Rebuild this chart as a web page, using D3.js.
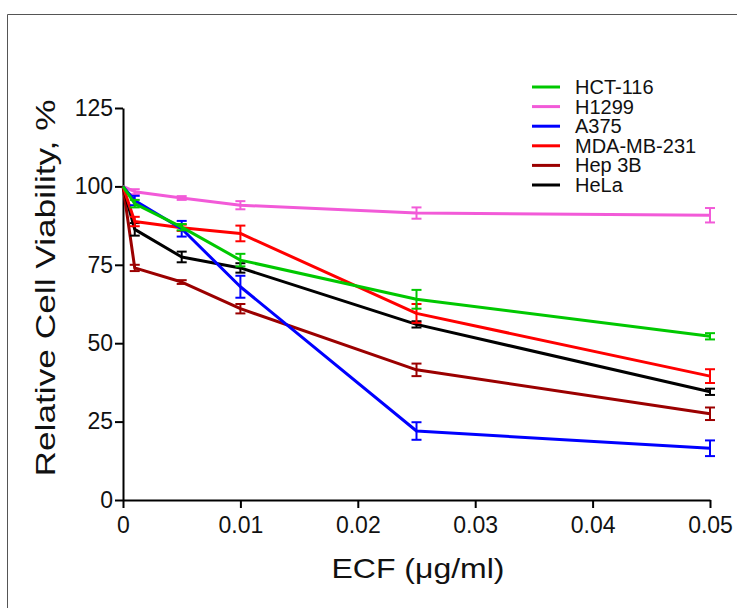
<!DOCTYPE html>
<html>
<head>
<meta charset="utf-8">
<script src="https://cdn.jsdelivr.net/npm/d3@7"></script>
<style>
  body { margin: 0; background: #fff; }
  svg { display: block; font-family: "Liberation Sans", Arial, sans-serif; }
  .axis path, .axis line { stroke: #000; stroke-width: 2; }
  .axis text { font-size: 23px; fill: #111; }
</style>
</head>
<body>
<div id="chart"></div>
<script>
// doses (ug/ml)
const doses = [0, 0.001, 0.005, 0.01, 0.025, 0.05];
const seriesNames = ['HCT-116', 'H1299', 'A375', 'MDA-MB-231', 'Hep 3B', 'HeLa'];
const seriesColors = ['#00c800', '#f25ad8', '#0000ff', '#ff0000', '#9b0000', '#000000'];

const hct116 = [100, 94.5, 87, 76.5, 64, 52.2];
const hct116Err = [0.5, 1.2, 1, 2, 3, 1];
const h1299 = [100, 98.3, 96.3, 94, 91.5, 90.8];
const h1299Err = [0.5, 0.8, 0.6, 1.3, 1.8, 2.3];
const a375 = [100, 95.5, 86.5, 68, 22, 16.5];
const a375Err = [0.5, 1.5, 2.5, 3.5, 2.8, 2.5];
const mda231 = [100, 88.8, 86.8, 85, 59.5, 39.5];
const mda231Err = [0.5, 1.5, 1, 2.5, 3, 2.2];
const hep3b = [100, 74, 69.5, 61, 41.5, 27.5];
const hep3bErr = [0.5, 1, 0.6, 1.5, 2, 2];
const hela = [100, 86.3, 77.5, 74, 56, 34.5];
const helaErr = [0.5, 2, 1.7, 1.5, 1, 1];

const yTicks = [0, 25, 50, 75, 100, 125];
const xTicks = [0, 0.01, 0.02, 0.03, 0.04, 0.05];
const xTickLabels = ['0', '0.01', '0.02', '0.03', '0.04', '0.05'];

const width = 737, height = 608;
const svg = d3.select('#chart').append('svg')
    .attr('width', width)
    .attr('height', height);

// frame
svg.append('path')
    .attr('d', 'M7.5,608 V14.5 H737')
    .attr('fill', 'none')
    .attr('stroke', '#555')
    .attr('stroke-width', 1);

const x = d3.scaleLinear().domain([0, 0.05]).range([123, 710]);
const y = d3.scaleLinear().domain([0, 125]).range([500, 108]);

svg.append('g')
    .attr('class', 'axis')
    .attr('transform', 'translate(0,500)')
    .call(d3.axisBottom(x).tickValues(xTicks).tickSize(8).tickSizeOuter(0).tickPadding(9)
        .tickFormat((d, i) => xTickLabels[i]));

svg.append('g')
    .attr('class', 'axis')
    .attr('transform', 'translate(123,0)')
    .call(d3.axisLeft(y).tickValues(yTicks).tickSize(8).tickSizeOuter(0).tickPadding(2));

// titles
svg.append('text')
    .attr('x', 418).attr('y', 578)
    .attr('text-anchor', 'middle')
    .attr('font-size', 28)
    .attr('textLength', 173).attr('lengthAdjust', 'spacingAndGlyphs')
    .attr('fill', '#111')
    .text('ECF (μg/ml)');

svg.append('text')
    .attr('transform', 'translate(55,288) rotate(-90)')
    .attr('text-anchor', 'middle')
    .attr('font-size', 28)
    .attr('textLength', 377).attr('lengthAdjust', 'spacingAndGlyphs')
    .attr('fill', '#111')
    .text('Relative Cell Viability, %');

const series = [
    { name: 'HCT-116', values: hct116, err: hct116Err },
    { name: 'H1299', values: h1299, err: h1299Err },
    { name: 'A375', values: a375, err: a375Err },
    { name: 'MDA-MB-231', values: mda231, err: mda231Err },
    { name: 'Hep 3B', values: hep3b, err: hep3bErr },
    { name: 'HeLa', values: hela, err: helaErr }
];
series.forEach((s, i) => { s.color = seriesColors[i]; });

// draw order so green ends up on top like the original
const drawOrder = ['H1299', 'Hep 3B', 'HeLa', 'MDA-MB-231', 'A375', 'HCT-116'];
const line = d3.line().x(d => x(d[0])).y(d => y(d[1]));
const capW = 5;

drawOrder.forEach(name => {
    const s = series.find(d => d.name === name);
    const pts = doses.map((dx, j) => [dx, s.values[j], s.err[j]]);
    const g = svg.append('g');
    g.append('path')
        .datum(pts)
        .attr('d', line)
        .attr('fill', 'none')
        .attr('stroke', s.color)
        .attr('stroke-width', 3)
        .attr('stroke-linejoin', 'round');
    const eb = g.selectAll('g.eb').data(pts.slice(1)).enter().append('g');
    eb.append('line')
        .attr('x1', d => x(d[0])).attr('x2', d => x(d[0]))
        .attr('y1', d => y(d[1] - d[2])).attr('y2', d => y(d[1] + d[2]));
    eb.append('line')
        .attr('x1', d => x(d[0]) - capW).attr('x2', d => x(d[0]) + capW)
        .attr('y1', d => y(d[1] + d[2])).attr('y2', d => y(d[1] + d[2]));
    eb.append('line')
        .attr('x1', d => x(d[0]) - capW).attr('x2', d => x(d[0]) + capW)
        .attr('y1', d => y(d[1] - d[2])).attr('y2', d => y(d[1] - d[2]));
    eb.selectAll('line').attr('stroke', s.color).attr('stroke-width', 2);
});

// legend
const legend = svg.append('g').attr('transform', 'translate(532,87)');
const rows = legend.selectAll('g').data(series).enter().append('g')
    .attr('transform', (d, i) => 'translate(0,' + (i * 19.6) + ')');
rows.append('line')
    .attr('x1', 0).attr('x2', 28)
    .attr('stroke', d => d.color)
    .attr('stroke-width', 3);
rows.append('text')
    .attr('x', 43).attr('y', 7)
    .attr('font-size', 20)
    .attr('fill', '#111')
    .text(d => d.name);
</script>
</body>
</html>
